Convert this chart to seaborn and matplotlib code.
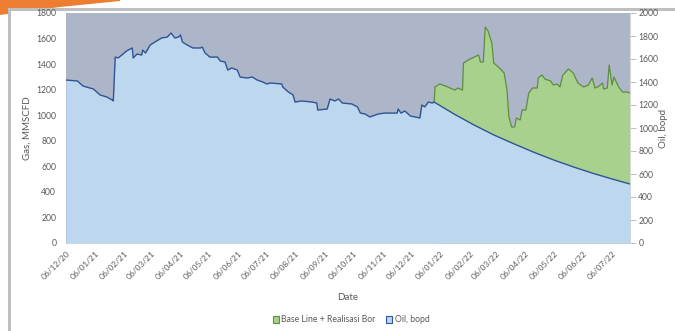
import numpy as np
import pandas as pd
import matplotlib
matplotlib.use("Agg")
import matplotlib.pyplot as plt
import matplotlib.dates as mdates
from matplotlib.patches import Patch, Rectangle, Polygon
import seaborn as sns

# ---------------- data ----------------
start_date = "2020-12-06"
# Oil, bopd (right axis): days since start_date and values
oil_days = [0, 12, 18, 29, 36, 43, 49, 50, 52, 55, 59, 64, 70, 71, 75, 80, 81, 84, 89, 94,
            101, 107, 111, 115, 119, 121, 123, 128, 134, 142, 144, 147, 152, 160, 163, 168,
            171, 175, 181, 184, 191, 197, 202, 208, 212, 216, 228, 229, 235, 240, 242, 249,
            260, 265, 266, 276, 279, 284, 288, 292, 302, 308, 311, 316, 321, 330, 337, 350,
            351, 354, 358, 364, 369, 374, 376, 379, 383, 387,
            389, 410, 431, 452, 474, 495, 516, 537, 558, 579, 596]
oil_vals = [1417, 1409, 1365, 1339, 1287, 1270, 1243, 1235, 1617, 1609, 1635, 1670, 1696,
            1609, 1643, 1635, 1678, 1652, 1722, 1748, 1783, 1791, 1826, 1783, 1791, 1809,
            1748, 1722, 1696, 1696, 1704, 1652, 1617, 1617, 1583, 1574, 1504, 1522, 1504,
            1443, 1435, 1443, 1417, 1400, 1383, 1391, 1383, 1357, 1313, 1287, 1226, 1235,
            1226, 1217, 1157, 1165, 1252, 1235, 1252, 1217, 1209, 1183, 1130, 1122, 1096,
            1122, 1130, 1130, 1165, 1130, 1148, 1104, 1096, 1087, 1200, 1183, 1226, 1217,
            1226, 1122, 1027, 940, 860, 787, 720, 659, 603, 552, 513]
# Base Line + Realisasi Bor (right axis)
bor_days = [389, 390, 395, 401, 411, 414, 419, 420, 425, 436, 438, 441, 443, 446, 450,
            452, 457, 463, 466, 468, 471, 474, 476, 480, 482, 486, 489, 493, 498, 499,
            503, 506, 512, 515, 519, 522, 525, 531, 536, 541, 547, 552, 556, 559, 562,
            567, 568, 572, 574, 577, 579, 584, 588, 593, 596]
bor_vals = [1226, 1357, 1383, 1365, 1330, 1348, 1330, 1565, 1591, 1635, 1574, 1574, 1878,
            1843, 1739, 1565, 1530, 1478, 1330, 1096, 1009, 1009, 1087, 1070, 1157, 1157,
            1304, 1348, 1348, 1435, 1461, 1426, 1409, 1374, 1383, 1357, 1461, 1513, 1478,
            1391, 1357, 1374, 1435, 1348, 1357, 1391, 1339, 1348, 1548, 1374, 1443, 1357,
            1313, 1313, 1304]
tick_dates = ["2020-12-06", "2021-01-06", "2021-02-06", "2021-03-06", "2021-04-06",
              "2021-05-06", "2021-06-06", "2021-07-06", "2021-08-06", "2021-09-06",
              "2021-10-06", "2021-11-06", "2021-12-06", "2022-01-06", "2022-02-06",
              "2022-03-06", "2022-04-06", "2022-05-06", "2022-06-06", "2022-07-06"]
gas_ticks = list(range(0, 1801, 200))
oil_ticks = list(range(0, 2001, 200))

# ---------------- build frames ----------------
t0 = pd.Timestamp(start_date)
oil_df = pd.DataFrame({"Date": t0 + pd.to_timedelta(oil_days, unit="D"), "Oil": oil_vals})
bor_df = pd.DataFrame({"Date": t0 + pd.to_timedelta(bor_days, unit="D"), "Bor": bor_vals})

sns.set_theme(style="white")
plt.rcParams["font.family"] = ["Lato", "DejaVu Sans"]

W, H = 675, 331
fig = plt.figure(figsize=(W / 100, H / 100), dpi=100)

# slide decorations (behind)
fig.patches.append(Polygon([(0, H), (120, H), (120, H - 1), (90, H - 4), (60, H - 7),
                            (30, H - 11), (0, H - 15)], closed=True, transform=None,
                           facecolor="#ED7D31", edgecolor="none", zorder=-3))
fig.patches.append(Rectangle((9, -10), W + 20, H - 5 + 10 - 4, transform=None,
                             facecolor="white", edgecolor="#BFBFBF", linewidth=2.2,
                             zorder=-2))

L, R, T, B = 66, 630, 13, 243
ax = fig.add_axes([L / W, 1 - B / H, (R - L) / W, (B - T) / H])
ax.set_facecolor("#ADB6C8")
ax2 = ax.twinx()
ax2.set_facecolor("none")

green_fill, green_line = "#A9D18E", "#5E8E3E"
blue_fill, blue_line = "#BDD7EE", "#2F5597"

ax2.fill_between(bor_df["Date"], 0, bor_df["Bor"], color=green_fill, lw=0, zorder=1)
sns.lineplot(data=bor_df, x="Date", y="Bor", ax=ax2, color=green_line, lw=0.9, zorder=2)
ax2.fill_between(oil_df["Date"], 0, oil_df["Oil"], color=blue_fill, lw=0, zorder=3)
sns.lineplot(data=oil_df, x="Date", y="Oil", ax=ax2, color=blue_line, lw=1.0, zorder=4)

xmin, xmax = t0, t0 + pd.Timedelta(days=596)
ax.set_xlim(xmin, xmax)
ax2.set_xlim(xmin, xmax)
ax.set_ylim(0, 1800)
ax2.set_ylim(0, 2000)
ax.set_yticks(gas_ticks)
ax2.set_yticks(oil_ticks)

tick_col = "#595959"
ax.set_xticks(pd.to_datetime(tick_dates))
ax.xaxis.set_major_formatter(mdates.DateFormatter("%d/%m/%y"))
for lab in ax.get_xticklabels():
    lab.set_rotation(45)
    lab.set_ha("right")
    lab.set_rotation_mode("anchor")
ax.tick_params(axis="x", labelsize=6.0, colors=tick_col, length=0, pad=5)
ax.tick_params(axis="y", labelsize=6.2, colors=tick_col, length=0, pad=7)
ax2.tick_params(axis="y", labelsize=6.2, colors=tick_col, length=4, width=0.7,
                direction="out", pad=2, right=True)
ax2.tick_params(axis="y", which="major", color="#BFBFBF")
ax2.tick_params(axis="x", length=0)
ax2.set_xlabel("")

for a in (ax, ax2):
    for s in a.spines.values():
        s.set_visible(False)
ax.spines["bottom"].set_visible(True)
ax.spines["bottom"].set_color("#D9D9D9")
ax.spines["bottom"].set_linewidth(0.8)
ax2.spines["right"].set_visible(True)
ax2.spines["right"].set_color("#D9D9D9")
ax2.spines["right"].set_linewidth(0.8)

ax.set_xlabel("")
ax.set_ylabel("")
ax2.set_ylabel("")
fig.text(348 / W, 1 - 297 / H, "Date", ha="center", va="center", fontsize=7, color=tick_col)
fig.text(27 / W, 1 - 128 / H, "Gas, MMSCFD", ha="center", va="center", rotation=90,
         fontsize=7, color=tick_col)
fig.text(664 / W, 1 - 128 / H, "Oil, bopd", ha="center", va="center", rotation=90,
         fontsize=7, color=tick_col)

handles = [Patch(facecolor=green_fill, edgecolor=green_line, linewidth=0.8,
                 label="Base Line + Realisasi Bor"),
           Patch(facecolor=blue_fill, edgecolor=blue_line, linewidth=0.8, label="Oil, bopd")]
leg = fig.legend(handles=handles, loc="center", bbox_to_anchor=(351 / W, 1 - 320 / H),
                 ncol=2, frameon=False, fontsize=6.2, handlelength=0.7, handleheight=0.7,
                 handletextpad=0.3, columnspacing=1.2)
for t in leg.get_texts():
    t.set_color(tick_col)

fig.savefig("out.png", dpi=100)
